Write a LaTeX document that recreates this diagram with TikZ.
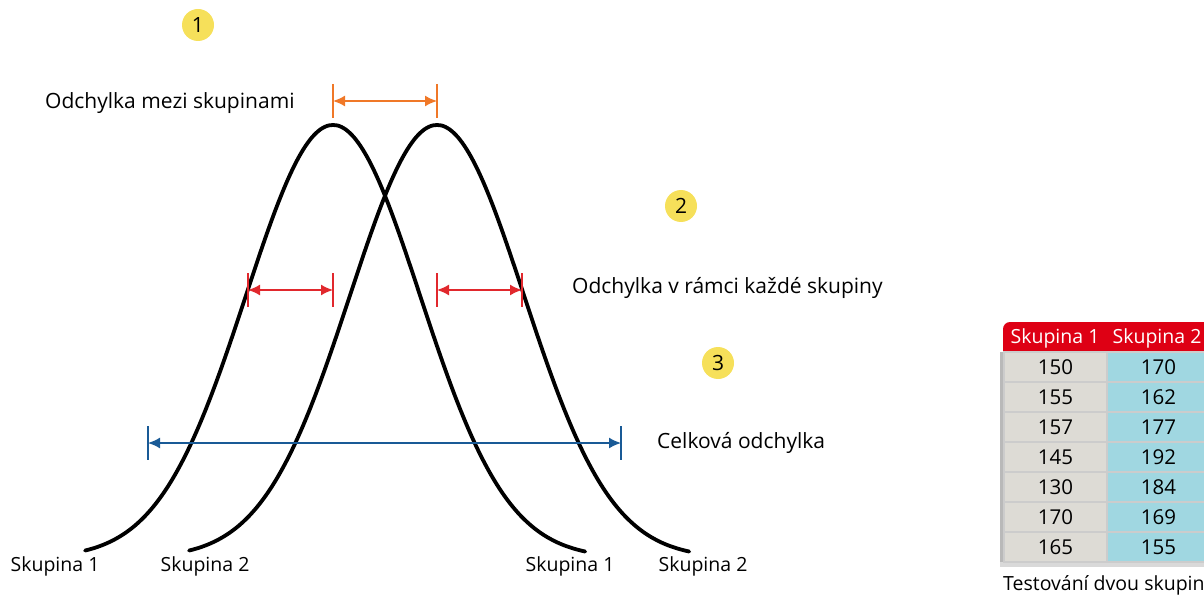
\documentclass[tikz,border=0pt]{standalone}
\usepackage{fontspec}
\setmainfont{Open Sans}
\usetikzlibrary{arrows.meta, positioning}
\definecolor{spanorange}{RGB}{240, 120, 40}
\definecolor{spanred}{RGB}{225, 40, 45}
\definecolor{spanblue}{RGB}{25, 90, 150}
\definecolor{badgeyellow}{RGB}{246, 224, 90}
\definecolor{headred}{RGB}{222, 0, 20}
\definecolor{cellgray}{RGB}{221, 219, 213}
\definecolor{cellblue}{RGB}{160, 215, 225}

\tikzset{
  lbl/.style={font=\fontsize{21}{24}\selectfont, inner sep=0pt},
  small/.style={font=\fontsize{19.5}{22}\selectfont},
  badge/.style={circle, fill=badgeyellow, minimum size=32pt, inner sep=0pt, font=\fontsize{21}{23}\selectfont},
  span/.style={line width=1.6pt, {Latex[length=12pt, width=11pt]}-{Latex[length=12pt, width=11pt]}},
  tick/.style={line width=1.6pt},
  cell/.style={minimum width=103pt, minimum height=30pt, inner sep=0pt, draw=white!80!black, line width=1.2pt, font=\fontsize{20.5}{22}\selectfont},
}

\begin{document}
\begin{tikzpicture}[x=1pt, y=-1pt]
  \useasboundingbox (0,0) rectangle (1204,596);

  % the two bell curves
  \foreach \xc in {333, 437} {
    \draw[line width=3.8pt, line cap=round] plot[domain=-2.85:2.9, samples=120, smooth] ({\xc+87*\x}, {558-433*exp(-0.5*\x*\x)});
  }

  % numbered badges
  \node[badge] (b1) at (198,25) {1};
  \node[badge] (b2) at (681,206) {2};
  \node[badge] (b3) at (718,363) {3};

  % labels
  \node[lbl, anchor=west] (between) at (45,103) {Odchylka mezi skupinami};
  \node[lbl, anchor=west] (within) at (572,288) {Odchylka v rámci každé skupiny};
  \node[lbl, anchor=west] (total) at (657,443) {Celková odchylka};

  % spans
  \foreach \n/\xa/\xb/\yy/\col in {sb/333/437/101/spanorange, sa/248/333/290/spanred, sc/437/522/290/spanred, st/148/621/443/spanblue} {
    \coordinate (\n-l) at (\xa,\yy);
    \coordinate (\n-r) at (\xb,\yy);
    \draw[tick, \col] ([yshift=17pt]\n-l) -- ([yshift=-17pt]\n-l);
    \draw[tick, \col] ([yshift=17pt]\n-r) -- ([yshift=-17pt]\n-r);
    \draw[span, \col] (\n-l) -- (\n-r);
  }

  % curve ends
  \node[lbl, small] (g1l) at (55,566) {Skupina 1};
  \node[lbl, small] (g2l) at (205,566) {Skupina 2};
  \node[lbl, small] (g1r) at (570,566) {Skupina 1};
  \node[lbl, small] (g2r) at (703,566) {Skupina 2};

  % data table
  \fill[headred] (1003,352) [rounded corners=7pt] -- (1003,322) [sharp corners] -- (1204,322) -- (1204,352) -- cycle;
  \node[lbl, small, white] (h1) at (1055,338) {Skupina 1};
  \node[lbl, small, white] (h2) at (1157,338) {Skupina 2};
  \fill[gray!55] (1000,352) rectangle (1004,566);
  \fill[gray!30] (1000,562) rectangle (1204,567);
  \foreach \i/\a/\b in {0/150/170, 1/155/162, 2/157/177, 3/145/192, 4/130/184, 5/170/169, 6/165/155} {
    \node[cell, fill=cellgray] (a\i) at (1055.5,367+30*\i) {\a};
    \node[cell, fill=cellblue] (c\i) at (1158.5,367+30*\i) {\b};
  }
  \node[lbl, small, anchor=west] (cap) at (1003,585) {Testování dvou skupin};
\end{tikzpicture}
\end{document}
